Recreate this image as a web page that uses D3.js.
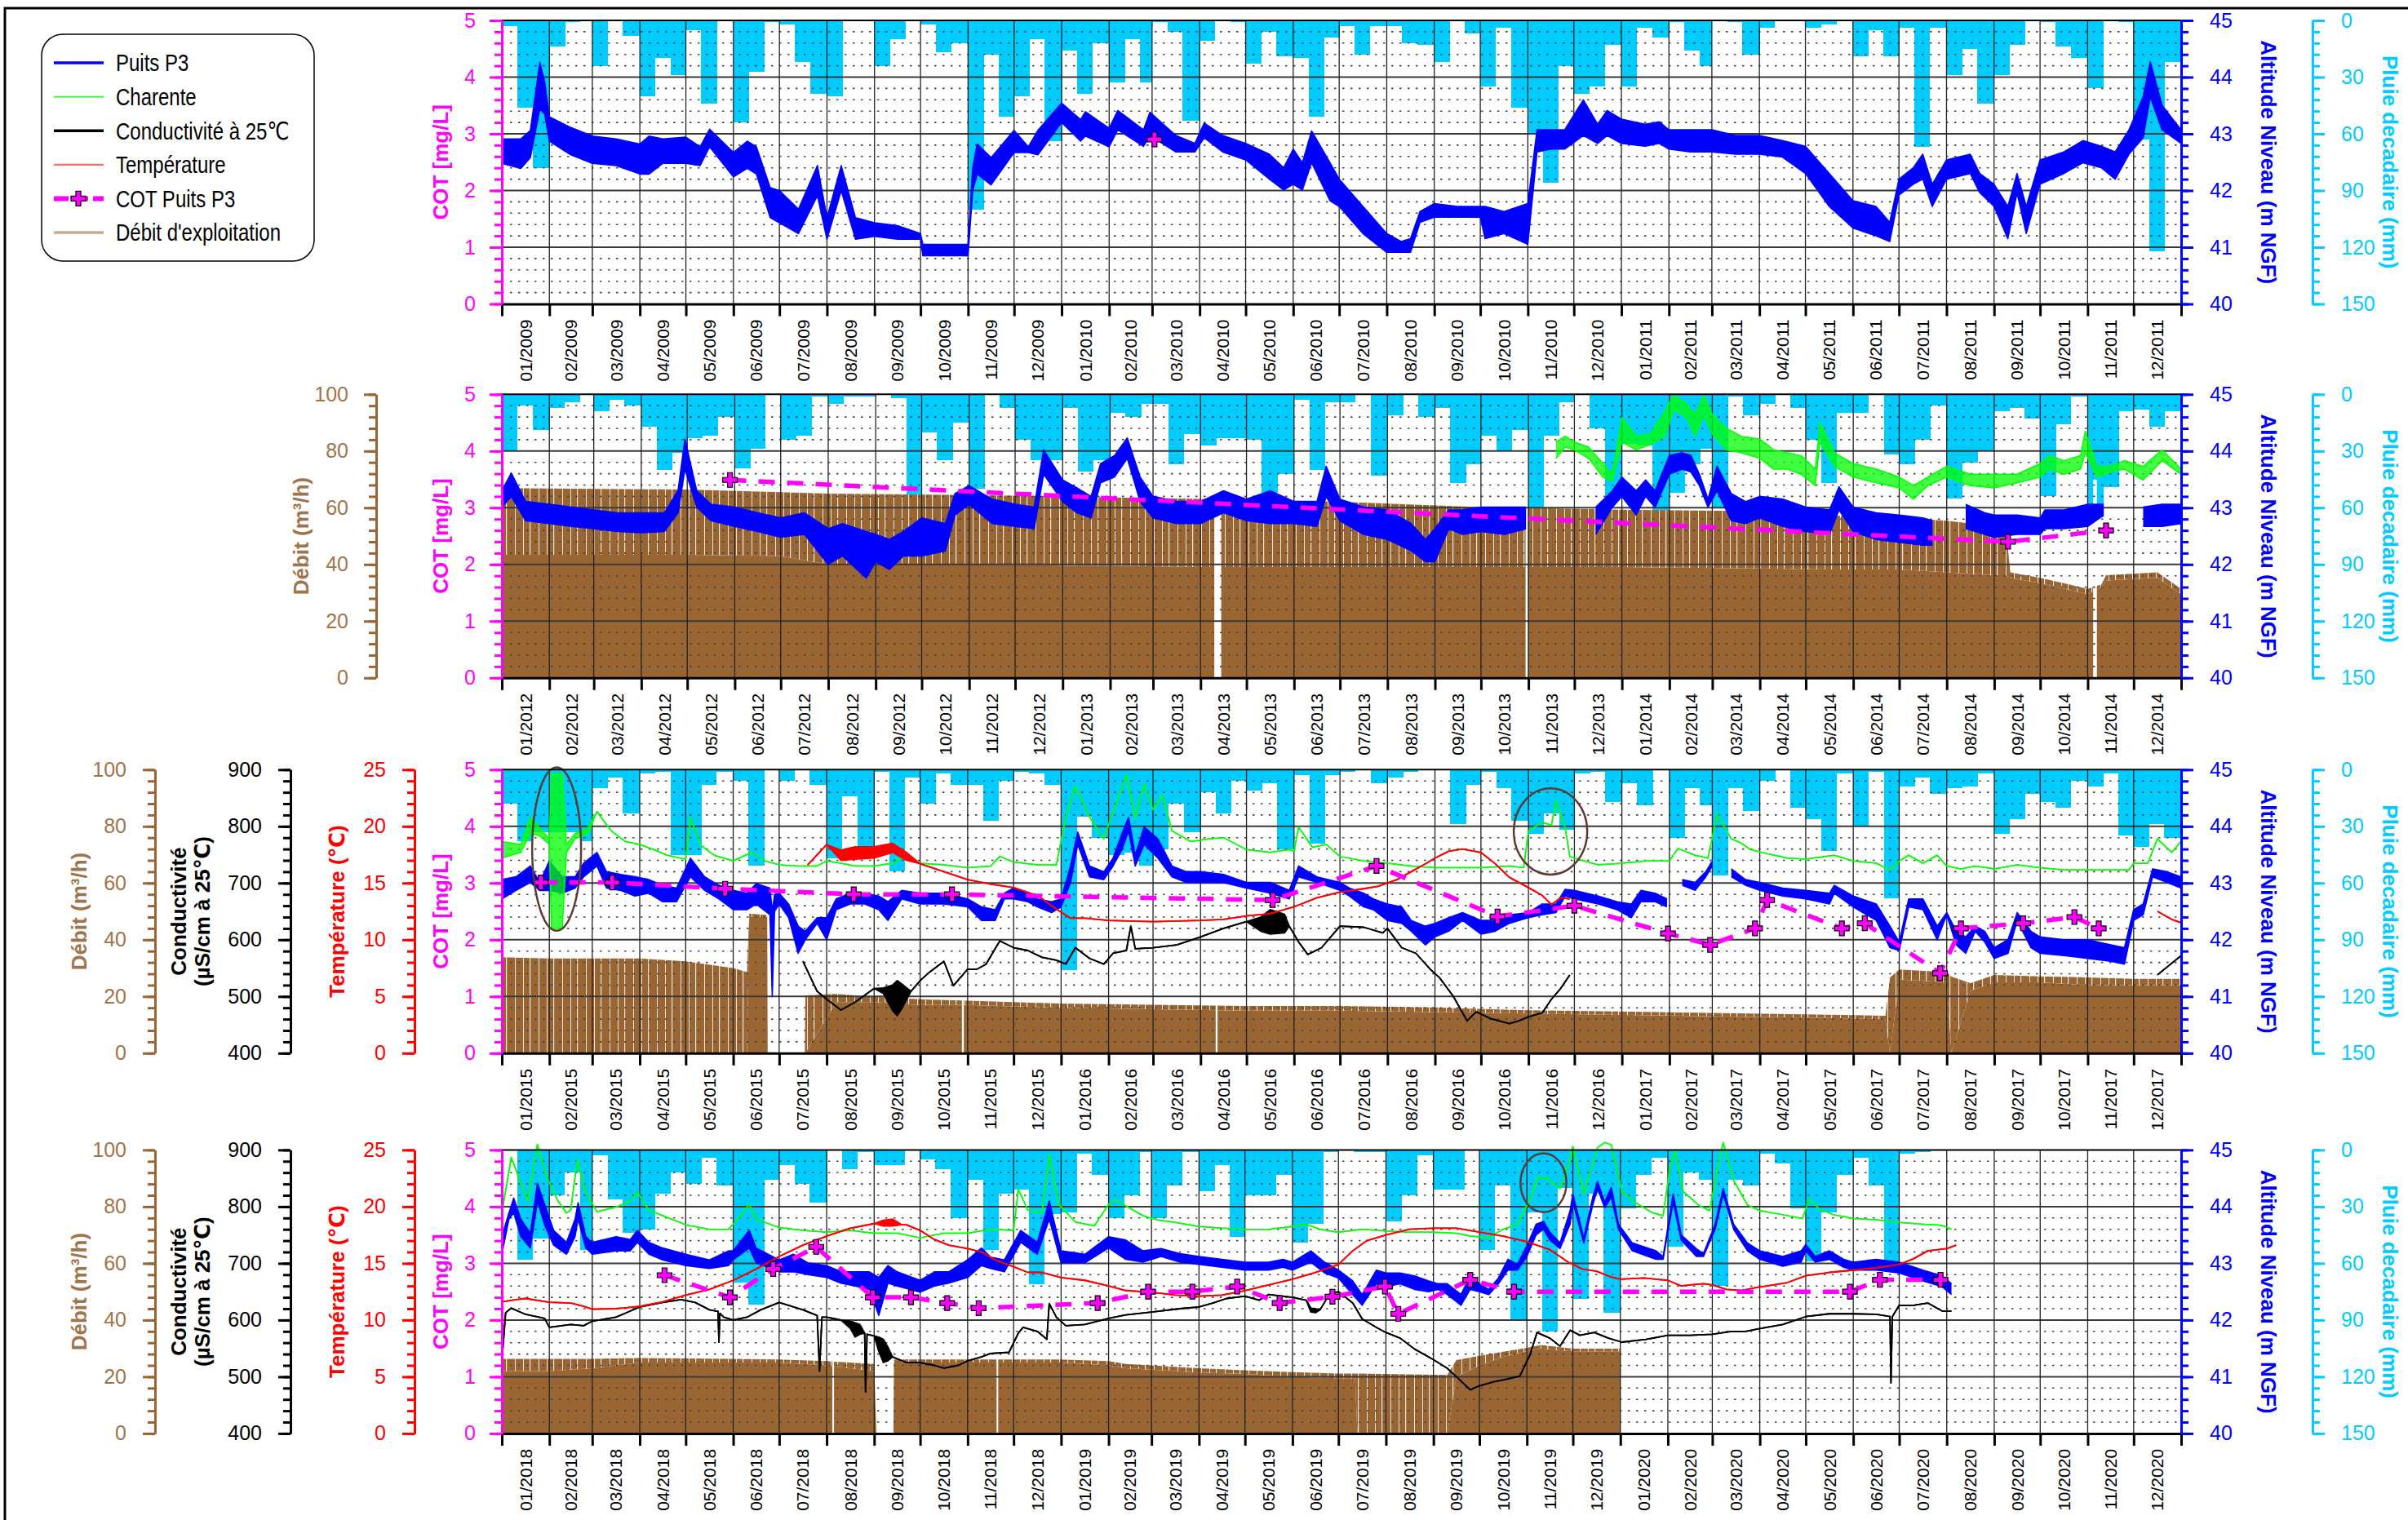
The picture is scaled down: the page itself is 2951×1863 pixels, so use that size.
<!DOCTYPE html>
<html>
<head>
<meta charset="utf-8">
<script src="https://cdn.jsdelivr.net/npm/d3@7"></script>
<style>
html,body{margin:0;padding:0;background:#fff;}
svg{display:block;font-family:"Liberation Sans",Arial,"DejaVu Sans",sans-serif;}
</style>
</head>
<body>
<svg id="chart" width="2951" height="1863"></svg>
<script>
// ---------------------------------------------------------------------------
// Data. Time "t" = months elapsed since 1 January of the first year of a row
// (t = 4.5 -> mid-May of that first year, t = 24 -> 1 January of the third year).
// ---------------------------------------------------------------------------

// Pluie décadaire (mm), three decades per month, 36 months per row
const rain2009 = [3,46,78, 14,1,0, 24,0,8, 40,20,29, 5,44,0, 54,27,1, 2,22,39, 40,0,0, 24,10,0, 2,17,12, 100,18,51, 40,10,64,
  16,39,12, 33,10,33, 1,6,53, 11,0,1, 23,6,19, 20,51,9, 3,18,3, 3,12,13, 22,0,7, 35,4,46, 60,86,24, 39,35,13,
  35,4,9, 1,16,24, 0,1,18, 4,0,0, 4,2,0, 19,5,19, 4,67,4, 29,15,44, 29,13,0, 1,14,20, 36,0,1, 63,122,22];
const rain2012 = [30,6,19, 7,4,0, 9,3,6, 17,40,31, 23,22,12, 39,29,0, 24,22,1, 5,1,1, 0,2,53, 20,35,15, 50,0,7, 24,35,35,
  7,41,35, 10,12,5, 5,37,21, 27,23,23, 24,52,42, 3,40,4, 4,0,43, 11,0,12, 7,47,37, 22,30,19, 60,22,4, 0,18,55,
  26,27,71, 52,37,29, 60,1,11, 5,0,7, 24,47,10, 10,0,32, 37,24,6, 55,36,30, 9,7,13, 54,16,1, 65,49,9, 8,17,9];
const rain2015 = [18,38,33, 33,33,38, 10,4,23, 2,1,45, 45,8,1, 6,51,0, 6,0,8, 47,14,46, 1,54,4, 18,2,8, 8,27,6, 1,2,8,
  106,25,36, 45,44,51, 42,18,33, 12,23,6, 11,7,42, 3,39,3, 1,0,7, 4,1,0, 0,29,8, 1,10,27, 34,23,32, 2,1,17,
  7,19,0, 36,10,19, 56,10,22, 6,0,20, 26,43,2, 30,1,68, 9,4,13, 10,9,2, 34,26,13, 17,20,6, 9,2,35, 41,29,36];
const rain2018 = [0,58,47, 24,12,53, 3,26,44, 42,23,12, 18,4,19, 70,82,16, 8,18,28, 0,10,1, 8,8,0, 5,10,36, 16,53,23, 21,71,34,
  33,2,13, 36,24,1, 36,19,1, 22,8,46, 24,24,13, 49,39,1, 0,1,1, 38,24,3, 21,21,0, 53,19,90, 33,96,20, 79,23,86,
  31,13,4, 51,12,16, 72,16,19, 2,7,31, 59,33,13, 4,19,59, 2,1,0, 0,0,0, 0,0,0, 0,0,0, 0,0,0, 0,0,0];

// Niveau Puits P3 (m NGF): [t, min, max] of the daily pumping cycle; [t, null] = no record
const level2009 = [[0,42.48,42.91],[0.4,42.39,42.91],[0.6,42.58,43.06],[0.8,43.44,44.26],[0.9,43.35,43.92],[1,42.87,43.3],[1.5,42.63,43.11],[2,42.48,42.96],[2.5,42.44,42.91],[3,42.29,42.82],[3.2,42.29,42.96],[3.5,42.48,42.91],[4,42.48,42.94],[4.3,42.44,42.77],[4.5,42.77,43.08],[5,42.24,42.67],[5.3,42.39,42.87],[5.5,42.29,42.77],[5.8,41.52,42.05],[6,41.43,42],[6.4,41.24,41.67],[6.8,41.91,42.44],[7,41.14,41.52],[7.3,42,42.44],[7.6,41.14,41.52],[8,41.19,41.43],[8.5,41.14,41.38],[9,41.14,41.24],[9.05,40.85,41.05],[10,40.85,41.05],[10.1,42,42.39],[10.2,42.29,42.82],[10.5,42.1,42.58],[11,42.67,43.06],[11.3,42.67,42.77],[11.5,42.63,43.06],[12,43.2,43.54],[12.4,42.87,43.25],[12.5,42.96,43.39],[13,42.77,43.1],[13.2,43.07,43.41],[13.8,42.78,43.07],[13.95,42.97,43.38],[14.5,42.68,42.97],[14.9,42.68,42.83],[15.1,42.93,43.19],[15.5,42.68,42.97],[16,42.54,42.83],[16.5,42.2,42.64],[16.8,42.01,42.4],[17,42.11,42.73],[17.2,42.01,42.49],[17.4,42.49,43.05],[17.8,41.82,42.49],[18,41.72,42.2],[18.5,41.24,41.72],[19,40.91,41.24],[19.3,40.91,41.1],[19.5,40.91,41.15],[19.7,41.44,41.63],[20,41.53,41.77],[20.5,41.53,41.72],[21,41.53,41.72],[21.1,41.15,41.72],[21.5,41.24,41.63],[22,41.05,41.77],[22.2,42.68,43.07],[22.5,42.73,43.07],[22.8,42.73,43.07],[23.2,42.97,43.6],[23.5,42.83,43.17],[23.7,42.97,43.41],[24,42.83,43.26],[24.5,42.78,43.17],[24.8,42.83,43.21],[25,42.73,43.07],[25.5,42.68,43.07],[26,42.68,43.07],[26.5,42.64,42.97],[27,42.64,42.97],[27.5,42.59,42.88],[28,42.3,42.78],[28.5,41.72,42.3],[29,41.34,41.82],[29.5,41.2,41.72],[29.8,41.1,41.44],[30,41.92,42.2],[30.3,42.11,42.4],[30.5,42.2,42.64],[30.7,41.72,42.11],[31,42.2,42.54],[31.5,42.3,42.64],[31.7,41.96,42.3],[32,41.72,42.11],[32.3,41.15,41.72],[32.5,41.96,42.3],[32.7,41.24,41.72],[33,42.11,42.54],[33.5,42.3,42.68],[33.9,42.49,42.88],[34.3,42.4,42.78],[34.6,42.2,42.68],[34.9,42.64,43.07],[35.2,42.93,43.65],[35.35,43.65,44.27],[35.6,43.07,43.5],[36,42.83,43.07]];
const level2012 = [[0,43.01,43.3],[0.2,43.2,43.61],[0.5,42.77,43.11],[1,42.72,43.06],[1.5,42.67,43.01],[2,42.63,42.96],[2.5,42.58,42.91],[3,42.56,42.91],[3.5,42.58,42.91],[3.8,42.91,43.3],[3.95,43.68,44.21],[4.2,43.01,43.3],[4.5,42.77,43.06],[5,42.67,43.01],[5.5,42.58,42.91],[6,42.48,42.82],[6.5,42.53,42.91],[7,42,42.63],[7.3,42.15,42.72],[7.8,41.76,42.58],[8,42.05,42.53],[8.3,41.91,42.44],[8.6,42.15,42.58],[9,42.15,42.82],[9.5,42.24,42.72],[9.7,42.87,43.25],[10,43.06,43.39],[10.5,42.72,43.15],[11,42.67,43.06],[11.4,42.63,43.01],[11.6,43.59,44.02],[12,43.11,43.49],[12.3,42.91,43.35],[12.6,42.82,43.2],[12.8,43.44,43.78],[13.1,43.54,43.92],[13.4,43.87,44.23],[13.7,43.11,43.54],[14,42.82,43.2],[14.5,42.72,43.11],[15,42.72,43.11],[15.5,42.91,43.3],[16,42.77,43.15],[16.5,42.72,43.3],[17,42.72,43.11],[17.5,42.67,43.11],[17.7,43.2,43.73],[18,42.77,43.15],[18.5,42.53,43.01],[19,42.44,42.96],[19.5,42.24,42.72],[19.8,42.05,42.44],[20,42.05,42.63],[20.3,42.63,42.96],[20.6,42.53,42.96],[21,42.58,43.01],[21.5,42.53,43.01],[21.95,42.63,43.01],[22,null],[23.45,42.53,43.01],[23.8,43.01,43.3],[24,43.2,43.54],[24.3,42.87,43.3],[24.5,43.2,43.49],[24.7,43.01,43.3],[25,43.59,43.92],[25.3,43.68,43.97],[25.5,43.63,43.92],[25.7,43.39,43.59],[25.9,43.01,43.15],[26.1,43.3,43.73],[26.4,42.77,43.25],[26.7,42.72,43.11],[27,42.82,43.2],[27.5,42.67,43.15],[28,42.58,43.01],[28.5,42.53,42.96],[28.7,42.96,43.37],[29,42.58,43.01],[29.5,42.44,42.91],[30,42.39,42.87],[30.5,42.34,42.82],[30.7,42.34,42.77],[30.8,null],[31.4,42.63,43.06],[31.8,42.53,42.91],[32,42.48,42.87],[32.5,42.53,42.87],[33,42.53,42.82],[33.1,42.63,42.96],[33.5,42.63,42.96],[34,42.67,43.06],[34.35,42.87,43.06],[34.4,null],[35.2,42.67,43.01],[35.6,42.67,43.06],[36,42.72,43.06]];
const level2015 = [[0,42.72,43.06],[0.3,42.87,43.11],[0.6,43.01,43.3],[0.8,42.87,43.01],[1,42.87,43.39],[1.3,42.82,43.11],[1.6,42.91,43.11],[1.8,43.11,43.35],[2.1,43.3,43.54],[2.3,42.91,43.2],[2.6,42.87,43.15],[2.9,42.77,43.11],[3.2,42.82,43.06],[3.5,42.67,42.96],[3.8,42.67,42.91],[4.1,43.11,43.44],[4.4,42.87,43.11],[4.7,42.72,42.96],[5,42.53,42.87],[5.3,42.53,42.82],[5.5,42.63,42.99],[5.8,42.44,42.91],[5.85,41,42.5],[5.9,42.5,42.8],[6,42.63,42.82],[6.2,42.39,42.63],[6.4,41.76,42.24],[6.55,42,42.15],[6.8,42.29,42.39],[7,42,42.39],[7.2,42.53,42.72],[7.5,42.63,42.82],[7.8,42.63,42.82],[8.1,42.53,42.77],[8.3,42.34,42.67],[8.6,42.72,42.87],[9,42.63,42.82],[9.5,42.63,42.82],[10,42.58,42.72],[10.3,42.34,42.58],[10.6,42.34,42.53],[10.8,42.72,42.82],[11,42.72,42.91],[11.3,42.67,42.82],[11.5,42.58,42.72],[11.8,42.48,42.67],[12,42.58,42.72],[12.2,43.01,43.3],[12.35,43.68,43.9],[12.6,43.11,43.3],[12.9,43.06,43.2],[13.1,43.3,43.44],[13.3,43.59,43.87],[13.45,43.92,44.16],[13.6,43.3,43.49],[13.8,43.68,43.99],[14.1,43.44,43.78],[14.4,43.11,43.3],[14.7,43.01,43.2],[15,43.01,43.2],[15.5,43.01,43.15],[16,42.91,43.01],[16.5,42.82,43.01],[16.9,42.72,42.87],[17.1,43.11,43.3],[17.5,43.01,43.11],[18,42.87,43.01],[18.2,42.77,42.91],[18.5,42.58,42.82],[18.7,42.53,42.72],[19,42.34,42.63],[19.3,42.29,42.58],[19.5,42.15,42.34],[19.8,41.91,42.24],[20,42.05,42.29],[20.3,42.15,42.39],[20.6,42.34,42.48],[21,42.1,42.34],[21.3,42.15,42.34],[21.6,42.29,42.44],[22,42.39,42.48],[22.3,42.44,42.63],[22.6,42.48,42.63],[22.8,42.77,42.89],[23,42.72,42.87],[23.5,42.63,42.77],[23.9,42.53,42.67],[24.2,42.39,42.63],[24.4,42.67,42.87],[24.7,42.67,42.82],[24.95,42.58,42.72],[25,null],[25.3,42.96,43.06],[25.6,42.87,43.01],[25.85,43.11,43.2],[26,43.3,43.39],[26.05,null],[26.4,43.11,43.25],[26.7,42.96,43.06],[27,42.87,43.01],[27.5,42.77,42.91],[28,42.72,42.87],[28.5,42.63,42.82],[28.6,42.82,42.96],[29,42.58,42.77],[29.5,42.34,42.63],[29.8,41.86,42.24],[30,41.81,41.96],[30.2,42.58,42.72],[30.5,42.53,42.72],[30.8,42,42.24],[31,42.44,42.48],[31.2,41.91,42.15],[31.4,41.76,42.05],[31.6,42.15,42.24],[31.8,41.96,42.15],[32,41.67,41.86],[32.3,41.76,42],[32.5,42.34,42.48],[32.8,41.86,42.15],[33,41.76,42.05],[33.5,41.72,42],[34,41.67,42],[34.5,41.62,41.91],[34.8,41.57,41.86],[35,42.34,42.53],[35.2,42.44,42.63],[35.4,43.11,43.25],[35.7,43.01,43.2],[36,42.91,43.11]];
const level2018 = [[0,43.16,43.47],[0.15,43.78,43.89],[0.25,43.89,44.15],[0.4,43.47,43.78],[0.6,43.27,43.53],[0.75,44.1,44.41],[0.9,43.68,44.04],[1.1,43.32,43.58],[1.4,43.16,43.37],[1.6,43.47,43.78],[1.67,43.78,44.07],[1.85,43.27,43.47],[2,43.16,43.37],[2.5,43.22,43.47],[2.8,43.22,43.42],[2.95,43.37,43.58],[3.2,43.16,43.37],[3.5,43.06,43.27],[4,42.96,43.16],[4.5,42.91,43.06],[4.9,42.96,43.22],[5,43.06,43.22],[5.35,43.27,43.58],[5.5,43.01,43.27],[6,42.85,43.06],[6.3,42.85,43.16],[6.6,42.8,43.01],[7,42.75,42.96],[7.3,42.65,42.85],[7.6,42.6,42.85],[7.9,42.54,42.85],[8.1,42.08,42.75],[8.3,42.65,42.96],[8.5,42.6,42.85],[9,42.49,42.7],[9.3,42.6,42.85],[9.6,42.65,42.85],[10,42.75,43.06],[10.3,42.96,43.27],[10.5,42.91,43.11],[10.8,42.85,43.06],[11.15,43.37,43.58],[11.5,43.16,43.37],[11.75,43.78,44.1],[12,43.01,43.22],[12.5,43.01,43.16],[13,43.27,43.47],[13.4,43.07,43.41],[13.8,43.02,43.22],[14.2,43.12,43.26],[14.6,43.02,43.17],[15,42.98,43.12],[15.5,42.93,43.07],[16,42.88,43.02],[16.5,42.88,43.02],[16.8,42.93,43.07],[17,42.88,43.02],[17.4,43.02,43.22],[17.7,42.83,43.02],[18,42.74,42.88],[18.3,42.45,42.69],[18.5,42.26,42.45],[18.8,42.64,42.88],[19,42.59,42.83],[19.3,42.64,42.83],[19.6,42.54,42.78],[19.9,42.5,42.69],[20.1,42.54,42.64],[20.3,42.45,42.64],[20.6,42.26,42.45],[20.8,42.54,42.78],[21,42.5,42.64],[21.2,42.45,42.54],[21.4,42.64,42.74],[21.6,42.88,43.07],[21.8,42.88,42.98],[22,43.12,43.31],[22.2,43.5,43.69],[22.36,43.6,43.74],[22.5,43.41,43.55],[22.72,43.26,43.36],[22.94,43.69,43.93],[23,44.08,44.22],[23.23,43.36,43.45],[23.42,44.03,44.17],[23.52,44.32,44.44],[23.67,43.98,44.08],[23.81,44.17,44.34],[23.96,43.6,43.69],[24.25,43.22,43.36],[24.75,43.07,43.22],[24.9,43.07,43.12],[25.12,44.08,44.22],[25.3,43.41,43.5],[25.64,43.12,43.26],[25.8,43.12,43.17],[26.06,43.6,43.69],[26.23,44.22,44.32],[26.45,43.6,43.69],[26.74,43.22,43.36],[27,43.07,43.22],[27.5,42.95,43.12],[27.9,43.02,43.22],[28,43.22,43.33],[28.2,43.02,43.12],[28.5,43.07,43.22],[28.8,42.93,43.07],[29,42.88,43.02],[29.5,42.88,43.07],[30,42.83,43.02],[30.5,42.69,42.88],[30.9,42.59,42.78],[31.1,42.45,42.64]];

// Niveau de la Charente (m NGF): [t, value] or [t, min, max]
const river2012 = [[22.6,43.87,44.16],[22.8,44.07,44.26],[23,44.02,44.16],[23.3,43.87,44.07],[23.6,43.54,43.78],[23.8,43.47,43.59],[24,44.16,44.59],[24.3,44.02,44.26],[24.6,44.11,44.3],[24.9,44.26,44.69],[25.1,44.74,44.98],[25.4,44.59,44.83],[25.6,44.26,44.64],[25.8,44.64,44.98],[26,44.3,44.64],[26.3,44.02,44.4],[26.6,43.97,44.26],[27,43.87,44.21],[27.3,43.68,44.02],[27.6,43.68,43.97],[27.9,43.59,43.92],[28.2,43.39,43.68],[28.3,44.16,44.5],[28.6,43.73,43.97],[29,43.54,43.78],[29.5,43.44,43.68],[30,43.35,43.54],[30.3,43.15,43.39],[30.6,43.39,43.54],[31,43.54,43.73],[31.5,43.39,43.59],[32,43.35,43.59],[32.5,43.44,43.59],[33,43.54,43.78],[33.2,43.68,43.92],[33.5,43.59,43.83],[33.85,43.68,43.92],[33.95,43.97,44.35],[34.2,43.54,43.73],[34.5,43.63,43.73],[34.8,43.68,43.83],[35.2,43.49,43.73],[35.6,43.83,44.02],[36,43.59,43.68]];
const river2015 = [[0,43.44,43.73],[0.4,43.54,43.68],[0.6,43.87,44.16],[0.8,43.83,43.97],[1,43.68,43.78],[1.05,42.2,44.93],[1.3,42.2,44.93],[1.4,43.54,43.68],[1.6,43.78,43.87],[1.9,43.87,43.97],[2.1,44.26],[2.4,43.92],[2.7,43.73],[3,43.68],[3.3,43.59],[3.6,43.49],[4,43.42],[4.1,44.16],[4.3,43.68],[4.6,43.49],[5,43.39],[5.4,43.54],[5.7,43.39],[6,43.32],[6.4,43.3],[6.8,43.3],[7,43.39],[7.3,43.35],[7.6,43.3],[8,43.3],[8.4,43.35],[8.6,43.44],[9,43.35],[9.5,43.32],[10,43.27],[10.5,43.3],[10.7,43.47],[11,43.37],[11.5,43.32],[11.9,43.32],[12.1,44.16],[12.3,44.71],[12.6,44.16],[12.9,43.78],[13.1,44.26],[13.4,44.9],[13.6,44.16],[13.8,44.74],[14,44.3],[14.2,44.54],[14.4,43.92],[14.8,43.73],[15.2,43.78],[15.5,43.8],[16,43.59],[16.5,43.54],[16.9,43.59],[17,43.56],[17.1,43.99],[17.4,43.63],[17.7,43.68],[18,43.47],[18.5,43.39],[19,43.35],[19.5,43.3],[20,43.27],[21,43.27],[21.6,43.3],[21.9,43.27],[22,43.92],[22.3,44.07],[22.5,44.02],[22.6,44.45],[22.8,43.97],[22.9,43.47],[23,43.44],[23.5,43.32],[24,43.35],[24.5,43.39],[25,43.39],[25.2,43.61],[25.6,43.49],[25.9,43.44],[26.1,44.21],[26.4,43.78],[26.6,43.71],[26.8,43.59],[27.2,43.51],[27.6,43.44],[28,43.42],[28.6,43.49],[29,43.39],[29.5,43.35],[29.8,43.23],[30,43.39],[30.2,43.49],[30.5,43.35],[30.8,43.49],[31,43.3],[31.3,43.25],[31.6,43.3],[32,43.25],[32.5,43.32],[33,43.27],[33.5,43.23],[34,43.23],[34.5,43.23],[34.9,43.23],[35,43.35],[35.3,43.35],[35.5,43.78],[35.8,43.54],[36,43.73]];
const river2018 = [[0,43.89],[0.2,44.87],[0.4,44.41],[0.55,44.1],[0.75,45.1],[0.95,44.51],[1.2,44.1],[1.4,43.89],[1.5,43.94],[1.65,44.82],[1.85,44.25],[2.1,43.91],[2.5,43.99],[2.8,44.1],[2.95,44.25],[3.2,43.94],[3.5,43.84],[4,43.68],[4.5,43.6],[4.9,43.6],[5.1,43.78],[5.35,44.04],[5.5,43.78],[6,43.63],[6.5,43.58],[7,43.55],[7.5,43.58],[8,43.53],[8.5,43.53],[9,43.45],[9.5,43.53],[10,43.53],[10.5,43.6],[11,43.58],[11.1,44.3],[11.3,43.94],[11.6,43.89],[11.75,44.92],[11.95,44.04],[12.3,43.73],[12.7,43.66],[13,44.04],[13.15,44.12],[13.55,43.95],[13.8,43.84],[14.1,43.77],[14.5,43.72],[15,43.65],[15.5,43.62],[16,43.6],[16.5,43.6],[17,43.65],[17.3,43.69],[17.6,43.6],[18,43.55],[18.5,43.6],[19,43.57],[19.5,43.55],[20,43.55],[20.5,43.53],[20.8,43.48],[21.2,43.45],[21.5,43.6],[21.8,43.69],[22.07,44.13],[22.14,44.29],[22.22,44.51],[22.43,44.51],[22.72,44.32],[22.94,44.85],[23,45.06],[23.23,44.22],[23.52,45.04],[23.67,45.13],[23.81,45.09],[24.03,44.27],[24.3,44.08],[24.68,43.89],[24.9,43.84],[25.04,44.65],[25.16,45.01],[25.34,44.27],[25.72,44.01],[25.94,43.93],[26.13,44.75],[26.23,45.13],[26.45,44.46],[26.74,44.03],[27,43.93],[27.48,43.86],[27.93,43.79],[28.07,44.13],[28.29,43.96],[28.57,43.86],[29,43.79],[29.5,43.77],[30,43.72],[30.5,43.69],[30.9,43.67],[31.1,43.6]];

// COT Puits P3 (mg/L), laboratory samples
const cot2009 = [[14.05,2.9]];
const cot2012 = [[4.9,3.49],[32.3,2.4],[34.4,2.6]];
const cot2015 = [[0.82,3.01],[2.42,3.01],[4.83,2.9],[7.57,2.8],[9.67,2.8],[16.55,2.7],[18.77,3.3],[21.35,2.41],[23.0,2.6],[24.97,2.11],[25.95,1.91],[26.9,2.2],[27.16,2.7],[28.76,2.2],[29.25,2.29],[30.86,1.41],[31.3,2.2],[32.63,2.29],[33.72,2.4],[34.24,2.2]];
const cot2018 = [[3.54,2.79],[4.93,2.4],[5.87,2.9],[6.78,3.29],[7.97,2.4],[8.8,2.4],[9.57,2.3],[10.24,2.21],[12.77,2.3],[13.92,2.5],[14.86,2.5],[15.83,2.59],[16.73,2.3],[17.87,2.41],[18.98,2.59],[19.26,2.11],[20.8,2.71],[21.73,2.5],[28.93,2.5],[29.58,2.71],[30.87,2.71]];

// Débit d'exploitation (m3/h): [t, daily maximum, continuous base]
const debit2012 = [[0,66.9,43.4],[4,66.4,43.4],[6,65.5,43],[7,65,40],[10,64.5,40],[12,64,39.6],[13,63.6,39.6],[15,63.1,39.1],[18,62.1,39.1],[21,60.2,39.1],[24,59.3,39.1],[27,58.8,38.6],[28.5,57.3,38.2],[30,56.4,38.2],[31,55.4,37.2],[32,53.5,36.2],[32.25,53.5,36.2],[32.35,37.2,35.3],[33,35.3,33.4],[34,31.4,29.5],[34.3,33,32],[34.4,36.2,34.3],[35.5,37.2,35.3],[36,31.4,29.5]];
const debit2015 = [[0,33.8,0],[1,33.4,0],[2,33.4,0],[3,33.4,0],[4,32.4,0],[5,30,0],[5.3,28.6,0],[5.35,49.2,48],[5.74,48.7,48],[5.75,0,0],[6.54,0,0],[6.55,20.4,0],[7.2,20.9,18],[8,19.9,18],[9,19,17],[10,18.5,17],[11,18,16.5],[12,17.5,16],[14,17.1,15.5],[16,16.6,15],[18,16.6,15],[20,16.1,14.5],[22,15.1,14],[24,14.7,13.5],[26,14.2,13],[28,13.7,12.5],[29.7,13.2,12],[29.8,26.7,0],[30,29.5,26],[31,28.6,25],[31.1,27,0],[31.5,24.7,22],[32,27.6,25],[33,27.1,25],[34,26.7,24],[35,26.2,24],[36,26.2,24]];
const debit2018 = [[0,26.3,22],[1,26.3,22],[2,26.3,23],[3,26.6,25],[5,26.3,25],[6,26.1,25],[7,25.5,24],[8,24.5,22],[8.05,0,0],[8.42,0,0],[8.43,26.1,25],[10,26.1,25],[12,26.1,25],[13,25.5,24],[13.4,24.5,23],[14,24,22.5],[15,23,21.5],[16,22.3,21],[17,21.6,20],[18,21.1,19.5],[18.35,21.1,19.5],[18.4,21.1,0],[20.3,20.6,0],[20.5,25.9,20],[21,27.4,24],[21.5,28.8,27],[22,30.2,29],[22.3,31.2,30],[23,29.9,29],[24,29.9,29]];
// Short pump stops (débit = 0): [t start, t end]
const stops2012 = [[15.3,15.45],[21.94,21.99],[34.12,34.2]];
const stops2015 = [[9.88,9.92],[15.33,15.37]];
const stops2018 = [[7.12,7.15],[10.63,10.66]];

// Température (°C) and Conductivité à 25°C (µS/cm)
const temp2015 = [[6.6,16.6],[7,18.4],[7.3,17,17.9],[7.6,17.1,18.2],[8,17.2,18.2],[8.4,17.7,18.5],[8.7,17,17.7],[9,16.7],[9.5,16],[10,15.3],[10.5,14.9],[11,14.6],[11.5,13.9],[11.9,12.7],[12.2,11.9],[12.5,11.9],[13,11.7],[14,11.6],[15,11.7],[15.5,11.8],[16,12.1],[16.5,12.3],[17,12.9],[17.5,13.7],[18,14.2],[18.5,14.5],[18.8,14.7],[19.2,15.3],[19.5,16],[19.8,16.7],[20,17.2],[20.3,17.8],[20.6,18],[21,17.7],[21.3,16.7],[21.6,15.5],[22,14.6],[22.3,13.9],[22.5,13.1],[22.7,13.7],[22.9,13.6],[23,null],[35.5,12.5],[35.8,11.8],[36,11.5]];
const cond2015 = [[6.5,562],[6.8,509],[7,495],[7.3,476],[7.6,490],[8,514],[8.2,505,515],[8.4,475,520],[8.5,466,528],[8.6,478,522],[8.8,509],[9,528],[9.2,543],[9.5,562],[9.7,519],[10,548],[10.2,548],[10.4,557],[10.7,598],[11,586],[11.3,581],[11.6,569],[11.9,564],[12.1,557],[12.3,586],[12.6,567],[12.9,557],[13.1,576],[13.4,581],[13.5,624],[13.6,584],[14,586],[14.5,591],[15,605],[15.5,620],[16,632],[16.3,615,640],[16.5,610,653],[16.8,612,645],[16.9,624],[17.1,596],[17.3,574],[17.6,586],[18,624],[18.5,622],[18.9,612],[19,620],[19.3,586],[19.6,576],[19.9,548],[20.1,533],[20.4,500],[20.7,457],[20.9,473],[21.2,461],[21.6,452],[21.8,457],[22,464],[22.3,471],[22.5,495],[22.7,514],[22.9,538],[23,null],[35.5,538],[36,572]];
const temp2018 = [[0,11.6],[0.3,11.8],[0.5,11.9],[1,11.56],[1.5,11.5],[1.8,11.2],[2,10.96],[2.5,11],[3,11.2],[3.5,11.6],[4,12.2],[4.5,12.7],[5,13.5],[5.5,14.5],[6,15.6],[6.5,16.6],[7,17.4],[7.5,18.1],[8,18.5],[8.2,18.3,18.8],[8.4,18.3,18.9],[8.6,18.4],[8.7,18.4],[9,17.9],[9.3,17.1],[9.6,16.6],[10,16.3],[10.3,16],[10.6,15.3],[11,14.7],[11.3,14.2],[11.6,14.2],[12,13.75],[12.5,13.5],[13,13],[13.4,12.6],[13.8,12.5],[14.2,12.36],[14.5,12.2],[15,12.1],[15.5,12.2],[16,12.6],[16.5,13.1],[17,13.6],[17.5,14.2],[17.8,14.6],[18,14.9],[18.3,16.1],[18.6,17],[19,17.5],[19.5,18],[20,18.1],[20.5,18.1],[21,17.75],[21.5,17.4],[21.8,17.1],[22,16.9],[22.5,16.2],[22.9,15.1],[23.2,14.5],[23.5,14.3],[23.8,13.8],[24,13.6],[24.5,13.7],[25,13.5],[25.3,13.0],[25.5,13.1],[25.8,13.2],[26,13.1],[26.3,12.7],[26.6,12.6],[26.9,12.85],[27.3,13.1],[27.6,13.3],[28,13.9],[28.5,14.2],[29,14.4],[29.5,14.6],[30,14.9],[30.3,15.4],[30.6,16.1],[31,16.3],[31.2,16.6]];
const cond2018 = [[0,525],[0.08,613],[0.2,621],[0.5,610],[0.9,603],[1,587],[1.5,592],[1.8,590],[2,598],[2.5,605],[3,623],[3.5,631],[3.9,636],[4.2,631],[4.5,618],[4.68,615],[4.7,561],[4.72,612],[4.8,605],[5,600],[5.3,605],[5.6,618],[6,631],[6.5,618],[6.8,608],[6.85,510],[6.9,605],[7,605],[7.3,600],[7.5,585,598],[7.6,570,595],[7.7,575,592],[7.8,577],[7.82,473],[7.85,575],[8,572],[8.1,545,570],[8.2,525,566],[8.3,528,552],[8.4,535],[8.7,525],[9,525],[9.3,520],[9.5,515],[9.8,520],[10,528],[10.3,535],[10.5,541],[10.9,543],[11.1,577],[11.2,587],[11.5,580],[11.7,566],[11.75,629],[11.9,605],[12.1,590],[12.5,592],[13,603],[13.4,609],[14,614],[14.6,620],[15,623],[15.3,630],[15.6,638],[16,642],[16.3,635],[16.5,645],[17,640],[17.3,635],[17.4,614,621],[17.5,613,620],[17.6,618],[17.8,645],[18,650],[18.3,630],[18.5,602],[18.8,587],[19,578],[19.3,568],[19.6,549],[20,530],[20.3,515],[20.55,496],[20.8,477],[21,484],[21.3,491],[21.6,496],[21.85,501],[22.07,539],[22.22,578],[22.5,568],[22.72,554],[22.94,582],[23.15,573],[23.45,578],[23.75,568],[24.03,561],[24.54,566],[25,573],[25.5,573],[26,575],[26.4,580],[26.7,580],[27,585],[27.5,592],[28,606],[28.5,611],[29,611],[29.5,610],[29.8,606],[29.82,489],[29.85,606],[30,626],[30.3,626],[30.6,630],[30.9,616],[31.1,616]];

// Circled anomalies on the Charente record: centre [t, COT-scale value], half-extent [months, mg/L]
const notes2015 = [[1.17,3.6,0.57,1.44],[22.48,3.91,0.79,0.76]];
const notes2018 = [[22.36,4.42,0.5,0.52]];

// Legend entries
const legendLabels = ["Puits P3","Charente","Conductivité à 25℃","Température","COT Puits P3","Débit d'exploitation"];

// ---------------------------------------------------------------------------
// Layout and styles
// ---------------------------------------------------------------------------
const X0 = 615, X1 = 2673, PH = 347.5;
const rows = [
  {y0:2009, top:25,    rain:rain2009, level:level2009, river:null,      cot:cot2009, debit:null,      stops:[],        temp:null,     cond:null,     notes:[],        axes:"cot"},
  {y0:2012, top:483.3, rain:rain2012, level:level2012, river:river2012, cot:cot2012, debit:debit2012, stops:stops2012, temp:null,     cond:null,     notes:[],        axes:"debit"},
  {y0:2015, top:943.3, rain:rain2015, level:level2015, river:river2015, cot:cot2015, debit:debit2015, stops:stops2015, temp:temp2015, cond:cond2015, notes:notes2015, axes:"all"},
  {y0:2018, top:1409.4,rain:rain2018, level:level2018, river:river2018, cot:cot2018, debit:debit2018, stops:stops2018, temp:temp2018, cond:cond2018, notes:notes2018, axes:"all"}
];
const C = {rain:"#00CCFF", level:"#0000FF", river:"#00FF00", cond:"#000000", temp:"#FF0000",
           cot:"#FF00FF", debit:"#996633", debitText:"#A0744A", note:"#5E3A33"};
const TICK_FONT = 25, TITLE_FONT = 26, MONTH_FONT = 21;

const svg = d3.select("#chart");
svg.append("rect").attr("width", 2951).attr("height", 1863).attr("fill", "#fff");

const defs = svg.append("defs");
// streaked fill for the intermittent pumping band
const pat = defs.append("pattern").attr("id", "streak").attr("patternUnits", "userSpaceOnUse")
  .attr("width", 29).attr("height", 10);
pat.append("rect").attr("width", 29).attr("height", 10).attr("fill", C.debit);
[[3,1],[11,1.2],[22,1]].forEach(([x, w]) =>
  pat.append("rect").attr("x", x).attr("width", w).attr("height", 10).attr("fill", "#efe5da"));

// outer frame
svg.append("rect").attr("x", 6).attr("y", 10).attr("width", 3000).attr("height", 1900)
  .attr("fill", "none").attr("stroke", "#000").attr("stroke-width", 3);

function tDate(y0, t) {
  const m = Math.floor(t), f = t - m;
  const y = y0 + Math.floor(m / 12), mo = m % 12;
  const s = Date.UTC(y, mo, 1), e = Date.UTC(y, mo + 1, 1);
  return new Date(s + f * (e - s));
}

function styleAxis(g, color, width) {
  g.attr("color", color).attr("font-size", TICK_FONT).attr("font-family", '"Liberation Sans",Arial,sans-serif');
  g.selectAll(".domain").attr("stroke-width", width);
  g.selectAll(".tick line").attr("stroke-width", width);
}

function yAxis(parent, scale, x, side, majors, minors, color, pad, textColor) {
  const mk = side < 0 ? d3.axisLeft : d3.axisRight;
  const gMin = parent.append("g").attr("transform", `translate(${x},0)`)
    .call(mk(scale).tickValues(minors).tickSize(9).tickSizeOuter(0).tickFormat(""));
  styleAxis(gMin, color, 3);
  const gMaj = parent.append("g").attr("transform", `translate(${x},0)`)
    .call(mk(scale).tickValues(majors).tickSize(15).tickSizeOuter(0).tickPadding(pad).tickFormat(d3.format("d")));
  styleAxis(gMaj, color, 3);
  if (textColor) gMaj.selectAll("text").attr("fill", textColor);
}

function vTitle(parent, x, y, text, color, rot) {
  parent.append("text").attr("transform", `translate(${x},${y}) rotate(${rot})`)
    .attr("text-anchor", "middle").attr("dominant-baseline", "central")
    .attr("font-size", TITLE_FONT).attr("font-weight", "bold").attr("fill", color).text(text);
}

// band = area between min and max plus both edges stroked
function drawBand(g, data, xt, y, color, width, fillOpacity) {
  const lo = d => d[1], hi = d => (d.length > 2 ? d[2] : d[1]);
  const def = d => d[1] != null;
  g.append("path").attr("d", d3.area().defined(def).x(xt).y0(d => y(lo(d))).y1(d => y(hi(d)))(data))
    .attr("fill", color).attr("fill-opacity", fillOpacity);
  [lo, hi].forEach(acc => g.append("path")
    .attr("d", d3.line().defined(def).x(xt).y(d => y(acc(d)))(data))
    .attr("fill", "none").attr("stroke", color).attr("stroke-width", width).attr("stroke-linejoin", "round"));
}

const plusPath = "M-3,-9H3V-3H9V3H3V9H-3V3H-9V-3H-3Z";
const fmtMonth = d3.utcFormat("%m/%Y");

rows.forEach(r => {
  const top = r.top, bottom = top + PH, mid = top + PH / 2;
  const start = new Date(Date.UTC(r.y0, 0, 1)), end = new Date(Date.UTC(r.y0 + 3, 0, 1));
  const x = d3.scaleUtc().domain([start, end]).range([X0, X1]);
  const xt = d => x(tDate(r.y0, d[0]));
  const yCot = d3.scaleLinear().domain([0, 5]).range([bottom, top]);
  const yAlt = d3.scaleLinear().domain([40, 45]).range([bottom, top]);
  const yRain = d3.scaleLinear().domain([0, 150]).range([top, bottom]);
  const yDeb = d3.scaleLinear().domain([0, 100]).range([bottom, top]);
  const yTemp = d3.scaleLinear().domain([0, 25]).range([bottom, top]);
  const yCond = d3.scaleLinear().domain([400, 900]).range([bottom, top]);
  const g = svg.append("g");

  // rainfall per decade, hanging from the top
  const decades = r.rain.map((mm, i) => {
    const m = Math.floor(i / 3), k = i % 3;
    const y = r.y0 + Math.floor(m / 12), mo = m % 12;
    const s = new Date(Date.UTC(y, mo, 1 + 10 * k));
    const e = k < 2 ? new Date(Date.UTC(y, mo, 11 + 10 * k)) : new Date(Date.UTC(y, mo + 1, 1));
    return {s, e, mm};
  });
  g.append("g").selectAll("rect").data(decades.filter(d => d.mm > 0)).join("rect")
    .attr("x", d => x(d.s)).attr("width", d => x(d.e) - x(d.s) + 0.5)
    .attr("y", top).attr("height", d => yRain(d.mm) - top)
    .attr("fill", C.rain).attr("shape-rendering", "crispEdges");

  // pumping rate
  if (r.debit) {
    g.append("path").attr("d", d3.area().x(xt).y0(yDeb(0)).y1(d => yDeb(d[2]))(r.debit)).attr("fill", C.debit);
    g.append("path").attr("d", d3.area().x(xt).y0(d => yDeb(d[2])).y1(d => yDeb(d[1]))(r.debit)).attr("fill", "url(#streak)");
    const stopTop = d3.max(r.debit, d => d[1]) + 3;
    g.append("g").selectAll("rect").data(r.stops).join("rect")
      .attr("x", d => x(tDate(r.y0, d[0]))).attr("width", d => Math.max(2, x(tDate(r.y0, d[1])) - x(tDate(r.y0, d[0]))))
      .attr("y", yDeb(stopTop)).attr("height", yDeb(0) - yDeb(stopTop)).attr("fill", "#fff");
  }

  // grid
  const grid = g.append("g");
  d3.range(1, 25).filter(i => i % 5 !== 0).forEach(i => {
    const v = i * 0.2;
    grid.append("line").attr("x1", X0).attr("x2", X1).attr("y1", yCot(v)).attr("y2", yCot(v))
      .attr("stroke", "#444").attr("stroke-width", 1.6).attr("stroke-dasharray", "2.5,7.5");
  });
  [1, 2, 3, 4].forEach(v => grid.append("line").attr("x1", X0).attr("x2", X1).attr("y1", yCot(v)).attr("y2", yCot(v))
    .attr("stroke", "#3a3a3a").attr("stroke-width", 2));
  d3.utcMonth.range(d3.utcMonth.offset(start, 1), end).forEach(d =>
    grid.append("line").attr("x1", x(d)).attr("x2", x(d)).attr("y1", top).attr("y2", bottom)
      .attr("stroke", "#222").attr("stroke-width", 1.3));

  // series
  drawBand(g, r.level, xt, yAlt, C.level, 1.6, 1);
  if (r.river) drawBand(g, r.river, xt, yAlt, C.river, 1.5, 0.75);
  if (r.cond) drawBand(g, r.cond, xt, yCond, C.cond, 1.8, 1);
  if (r.temp) drawBand(g, r.temp, xt, yTemp, C.temp, 1.8, 1);

  // COT samples
  g.append("path").attr("d", d3.line().x(xt).y(d => yCot(d[1]))(r.cot))
    .attr("fill", "none").attr("stroke", C.cot).attr("stroke-width", 5.5).attr("stroke-dasharray", "20,15");
  g.append("g").selectAll("path").data(r.cot).join("path")
    .attr("d", plusPath).attr("transform", d => `translate(${xt(d)},${yCot(d[1])})`)
    .attr("fill", C.cot).attr("stroke", "#000").attr("stroke-width", 1.2);

  // circled anomalies
  r.notes.forEach(n => {
    const cx = x(tDate(r.y0, n[0]));
    const rx = x(tDate(r.y0, n[0] + n[2])) - cx;
    g.append("ellipse").attr("cx", cx).attr("cy", yCot(n[1]))
      .attr("rx", rx).attr("ry", yCot(n[1] - n[3]) - yCot(n[1]))
      .attr("fill", "none").attr("stroke", C.note).attr("stroke-width", 2.5);
  });

  // frame and time axis
  g.append("line").attr("x1", X0).attr("x2", X1).attr("y1", top).attr("y2", top).attr("stroke", "#000").attr("stroke-width", 2);
  const gx = g.append("g").attr("transform", `translate(0,${bottom})`)
    .call(d3.axisBottom(x).ticks(d3.utcMonth.every(1)).tickSize(15).tickSizeOuter(0).tickFormat(""));
  styleAxis(gx, "#000", 3);
  g.append("g").selectAll("text").data(d3.utcMonth.range(start, end)).join("text")
    .attr("transform", d => `translate(${x(new Date((+d + +d3.utcMonth.offset(d, 1)) / 2))},${bottom + 19}) rotate(-90)`)
    .attr("text-anchor", "end").attr("dominant-baseline", "central")
    .attr("font-size", MONTH_FONT).attr("fill", "#000").text(fmtMonth);

  // vertical axes
  const ax = g.append("g");
  yAxis(ax, yCot, X0, -1, d3.range(0, 6), d3.range(0, 5.01, 0.2), C.cot, 17);
  vTitle(ax, 540, mid, "COT [mg/L]", C.cot, -90);
  yAxis(ax, yAlt, X1, 1, d3.range(40, 46), d3.range(40, 45.01, 0.2), C.level, 20);
  vTitle(ax, 2780, mid, "Altitude Niveau (m NGF)", C.level, 90);
  yAxis(ax, yRain, 2834, 1, d3.range(0, 151, 30), d3.range(0, 151, 6), C.rain, 20);
  vTitle(ax, 2929, mid, "Pluie decadaire (mm)", C.rain, 90);
  if (r.axes === "debit") {
    yAxis(ax, yDeb, 461, -1, d3.range(0, 101, 20), d3.range(0, 101, 4), C.debit, 19, C.debitText);
    vTitle(ax, 369, mid, "Débit (m³/h)", C.debitText, -90);
  }
  if (r.axes === "all") {
    yAxis(ax, yTemp, 508, -1, d3.range(0, 26, 5), d3.range(0, 25.01, 1), C.temp, 20);
    vTitle(ax, 413, mid, "Température (℃)", C.temp, -90);
    yAxis(ax, yCond, 356, -1, d3.range(400, 901, 100), d3.range(400, 901, 20), C.cond, 20);
    vTitle(ax, 219, mid, "Conductivité", C.cond, -90);
    vTitle(ax, 248, mid, "(µS/cm à 25℃)", C.cond, -90);
    yAxis(ax, yDeb, 190, -1, d3.range(0, 101, 20), d3.range(0, 101, 4), C.debit, 20, C.debitText);
    vTitle(ax, 97, mid, "Débit (m³/h)", C.debitText, -90);
  }
});

// legend
const lg = svg.append("g");
lg.append("rect").attr("x", 51).attr("y", 42).attr("width", 334).attr("height", 278).attr("rx", 26)
  .attr("fill", "#fff").attr("stroke", "#000").attr("stroke-width", 1.5);
const legendStyles = [
  {c:C.level, w:3.5}, {c:"#33EE33", w:1.8}, {c:"#000", w:3.5}, {c:"#FF6A6A", w:2.2},
  {c:C.cot, w:6, dash:"18,6", mark:true}, {c:"#C8A88C", w:3.5}
];
legendLabels.forEach((label, i) => {
  const y = 77 + i * 41.6, s = legendStyles[i];
  lg.append("line").attr("x1", 66).attr("x2", 127).attr("y1", y).attr("y2", y)
    .attr("stroke", s.c).attr("stroke-width", s.w).attr("stroke-dasharray", s.dash || null);
  if (s.mark) lg.append("path").attr("d", plusPath).attr("transform", `translate(96,${y})`)
    .attr("fill", C.cot).attr("stroke", "#000").attr("stroke-width", 1.2);
  lg.append("text").attr("transform", `translate(142,${y}) scale(0.8,1)`)
    .attr("dominant-baseline", "central").attr("font-size", 30).attr("fill", "#000").text(label);
});
</script>
</body>
</html>
